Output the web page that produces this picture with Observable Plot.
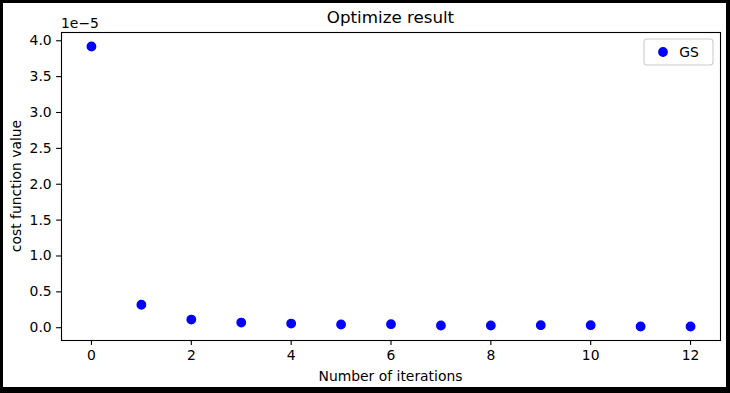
<!DOCTYPE html>
<html>
<head>
<meta charset="utf-8">
<script src="https://cdn.jsdelivr.net/npm/d3@7"></script>
<script src="https://cdn.jsdelivr.net/npm/@observablehq/plot@0.6"></script>
<style>
  html, body { margin: 0; padding: 0; background: white; }
  #wrap { position: relative; width: 730px; height: 393px; overflow: hidden; }
  #border { position: absolute; left: 0; top: 0; width: 730px; height: 393px; box-sizing: border-box;
            border-style: solid; border-color: black; border-width: 3px 4px 6px 3px; pointer-events: none; }
  svg { font-family: "DejaVu Sans", sans-serif; }
</style>
</head>
<body>
<div id="wrap"><div id="border"></div></div>
<script>
// Data (cost function value per iteration)
const iterations = [0, 1, 2, 3, 4, 5, 6, 7, 8, 9, 10, 11, 12];
const costValues = [3.92e-5, 0.32e-5, 0.114e-5, 0.072e-5, 0.058e-5, 0.045e-5, 0.049e-5,
                    0.031e-5, 0.031e-5, 0.035e-5, 0.035e-5, 0.017e-5, 0.017e-5];
const seriesName = "GS";
const xTicks = [0, 2, 4, 6, 8, 10, 12];
const yTicks = [0, 0.5, 1.0, 1.5, 2.0, 2.5, 3.0, 3.5, 4.0];
const scaleExp = 5;

const data = iterations.map((it, i) => ({it, v: costValues[i] * 10 ** scaleExp}));

// matplotlib-style 5% autoscale margins
const xmin = d3.min(iterations), xmax = d3.max(iterations);
const xs = xmax - xmin;
const ymin = d3.min(data, d => d.v), ymax = d3.max(data, d => d.v);
const ys = ymax - ymin;

const W = 730, H = 393, mL = 61, mR = 10, mT = 32, mB = 53;
const FS = 13.9;
const blue = "#0000ff";

const chart = Plot.plot({
  width: W, height: H,
  marginLeft: mL, marginRight: mR, marginTop: mT, marginBottom: mB,
  style: {fontFamily: "DejaVu Sans, sans-serif", fontSize: FS + "px", color: "black", background: "white"},
  x: {domain: [xmin - 0.05 * xs, xmax + 0.05 * xs]},
  y: {domain: [ymin - 0.05 * ys, ymax + 0.05 * ys]},
  marks: [
    Plot.frame({stroke: "black", strokeWidth: 1.1}),
    Plot.axisX({ticks: xTicks, tickSize: 4.9, tickPadding: 4.4, label: null, fontSize: FS, strokeWidth: 1.1, tickFormat: d => String(d)}),
    Plot.axisY({ticks: yTicks, tickSize: 4.9, tickPadding: 4.9, label: null, fontSize: FS, strokeWidth: 1.1, tickFormat: d => d.toFixed(1)}),
    Plot.dot(data, {x: "it", y: "v", r: 4.2, fill: blue, stroke: blue, strokeWidth: 1.4})
  ]
});
document.getElementById("wrap").prepend(chart);

const svg = d3.select(chart);
const cx = mL + (W - mL - mR) / 2;
const cy = mT + (H - mT - mB) / 2;
// Title
svg.append("text").attr("x", cx).attr("y", 23).attr("text-anchor", "middle")
  .attr("font-size", 16.7).attr("fill", "black").text("Optimize result");
// X label
svg.append("text").attr("x", cx).attr("y", 381).attr("text-anchor", "middle")
  .attr("font-size", FS).attr("fill", "black").text("Number of iterations");
// Y label
svg.append("text").attr("transform", `translate(21,${cy}) rotate(-90)`).attr("text-anchor", "middle")
  .attr("font-size", FS).attr("fill", "black").text("cost function value");
// Offset text
svg.append("text").attr("x", mL).attr("y", 27.5).attr("text-anchor", "start")
  .attr("font-size", FS).attr("fill", "black").text("1e\u2212" + scaleExp);
// Legend
const lg = svg.append("g").attr("transform", "translate(644,39)");
lg.append("rect").attr("width", 69).attr("height", 26).attr("rx", 3)
  .attr("fill", "white").attr("fill-opacity", 0.8).attr("stroke", "#cccccc").attr("stroke-width", 1.1);
lg.append("circle").attr("cx", 19).attr("cy", 13).attr("r", 4.2).attr("fill", blue).attr("stroke", blue).attr("stroke-width", 1.4);
lg.append("text").attr("x", 45).attr("y", 13).attr("dy", "0.35em").attr("font-size", FS).attr("fill", "black").text(seriesName);
</script>
</body>
</html>
